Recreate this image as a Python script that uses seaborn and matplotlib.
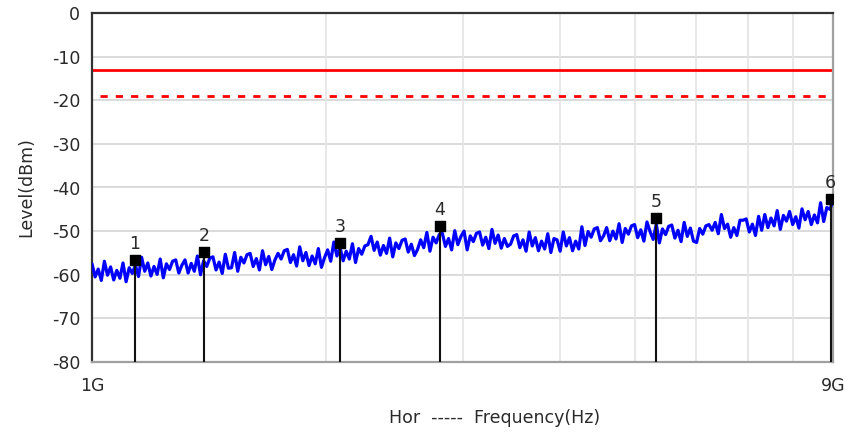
import numpy as np
import pandas as pd
import matplotlib
matplotlib.use("Agg")
import matplotlib.pyplot as plt
import seaborn as sns

# ---- data ----
f_start = 1e9
f_stop = 9e9

# measured trace (dBm), sweep points spaced evenly on the log axis
trace_level = [
    -57.5, -60.5, -58.7, -61.3, -56.9, -60.1, -58.2, -61.2, -59.0, -60.8, -57.3, -61.6, -58.4, -59.7, -57.8,
    -60.4, -56.0, -59.2, -57.3, -60.3, -58.1, -59.9, -56.4, -60.7, -57.5, -58.8, -56.9, -56.6, -59.6, -57.8,
    -56.6, -59.6, -57.4, -59.2, -55.7, -60.0, -56.8, -58.1, -56.2, -55.9, -58.9, -57.1, -59.7, -55.3, -58.5,
    -58.4, -54.9, -59.2, -56.0, -57.3, -55.4, -55.1, -58.1, -56.3, -58.9, -54.5, -57.7, -55.8, -58.8, -56.6,
    -55.1, -56.4, -54.5, -54.2, -57.2, -55.4, -58.0, -53.6, -56.8, -54.9, -57.9, -55.7, -57.5, -54.0, -58.3,
    -56.1, -54.3, -56.9, -52.5, -55.7, -53.8, -56.8, -54.6, -56.4, -52.9, -57.2, -54.0, -55.3, -53.4, -53.1,
    -51.2, -54.4, -52.5, -55.5, -53.3, -55.1, -51.6, -55.9, -52.7, -54.0, -52.1, -51.8, -54.8, -53.0, -55.6,
    -54.2, -52.0, -53.8, -50.3, -54.6, -51.4, -52.7, -50.8, -50.5, -53.5, -51.7, -54.3, -49.9, -53.1, -51.2,
    -50.0, -54.3, -51.1, -52.4, -50.5, -50.2, -53.2, -51.4, -54.0, -49.6, -52.8, -50.9, -53.9, -51.7, -53.5,
    -53.0, -51.1, -50.8, -53.8, -52.0, -54.6, -50.2, -53.4, -51.5, -54.5, -52.3, -54.1, -50.6, -54.9, -51.7,
    -52.0, -54.6, -50.2, -53.4, -51.5, -54.5, -52.3, -54.1, -49.0, -53.3, -50.1, -51.4, -49.5, -49.2, -52.2,
    -51.1, -49.2, -52.2, -50.0, -51.8, -48.3, -52.6, -49.4, -50.7, -48.8, -48.5, -51.5, -49.7, -52.3, -47.9,
    -50.1, -51.9, -48.4, -52.7, -49.5, -50.8, -48.9, -48.6, -51.6, -49.8, -52.4, -48.0, -51.2, -49.3, -52.3,
    -52.6, -49.4, -50.7, -48.8, -48.5, -49.8, -48.0, -50.6, -46.2, -49.4, -48.4, -51.4, -49.2, -51.0, -47.5,
    -47.5, -47.2, -50.2, -48.4, -51.0, -46.6, -49.8, -46.2, -49.2, -47.0, -48.8, -45.3, -49.6, -46.4, -47.7,
    -45.5, -48.5, -46.7, -49.3, -44.9, -47.4, -45.5, -48.5, -46.3, -48.1, -43.5, -47.8, -44.6, -45.0, -43.1,
]
trace_freq = np.geomspace(f_start, f_stop, len(trace_level))

# limit lines
limit_level = -13
margin_level = -19
margin_start = 1.025e9

# markers
marker_id = ["1", "2", "3", "4", "5", "6"]
marker_freq = [1.136e9, 1.394e9, 2.087e9, 2.806e9, 5.33e9, 8.94e9]
marker_level = [-56.7, -54.8, -52.8, -48.9, -46.9, -42.6]

y_min, y_max = -80, 0

# ---- plot ----
sns.set_style("white")
plt.rcParams["font.family"] = ["DejaVu Sans"]
plt.rcParams["axes.unicode_minus"] = False
txt = "#2a2a2a"

fig = plt.figure(figsize=(8.46, 4.36), dpi=100)
ax = fig.add_axes([92 / 846, 1 - 362 / 436, (833 - 92) / 846, (362 - 13) / 436])

df = pd.DataFrame({"freq": trace_freq, "level": trace_level})
sns.lineplot(data=df, x="freq", y="level", ax=ax, color="#0000ff",
             linewidth=2.3, estimator=None, sort=False, zorder=3)

sns.lineplot(x=[f_start, f_stop], y=[limit_level, limit_level], ax=ax,
             color="#ff0000", linewidth=2, zorder=2)
ax.plot([margin_start, f_stop], [margin_level, margin_level],
        color="#ff0000", linewidth=2, dashes=(2.6, 2.9), zorder=2)

# marker stems + squares + labels
ax.vlines(marker_freq, y_min, marker_level, color="#111111", linewidth=1.5, zorder=4)
ax.scatter(marker_freq, marker_level, marker="s", s=45, color="black", zorder=5)
for mid, mf, ml in zip(marker_id, marker_freq, marker_level):
    ax.annotate(mid, (mf, ml), xytext=(0, 5), textcoords="offset points",
                ha="center", va="bottom", fontsize=12.5, color=txt, zorder=6)

ax.set_xscale("log")
ax.set_xlim(f_start, f_stop)
ax.set_ylim(y_min, y_max)

ax.set_yticks(range(y_min, y_max + 1, 10))
ax.set_xticks([f_start, f_stop])
ax.set_xticklabels(["1G", "9G"])
ax.xaxis.set_minor_locator(matplotlib.ticker.NullLocator())
ax.tick_params(axis="both", labelsize=12.5, labelcolor=txt, length=5,
               width=1.2, color="#333333", direction="out")
ax.tick_params(axis="x", length=7, width=1.0, color="#666666", pad=4)

# grid
for v in range(y_min + 10, y_max, 10):
    ax.axhline(v, color="#d4d4d4", linewidth=1.2, zorder=0)
for g in [2e9, 3e9, 4e9, 5e9, 6e9, 7e9, 8e9]:
    ax.axvline(g, color="#e4e4e4", linewidth=1.2, zorder=0)

for side in ["left", "top"]:
    ax.spines[side].set_color("#333333")
    ax.spines[side].set_linewidth(1.6)
for side in ["right", "bottom"]:
    ax.spines[side].set_color("#a0a0a0")
    ax.spines[side].set_linewidth(1.6)

ax.set_xlabel("")
ax.set_ylabel("Level(dBm)", fontsize=12.5, color=txt, labelpad=12)
fig.text(495 / 846, 1 - 418 / 436, "Hor  -----  Frequency(Hz)", ha="center",
         va="center", fontsize=12.5, color=txt)

fig.savefig("out.png", dpi=100)
